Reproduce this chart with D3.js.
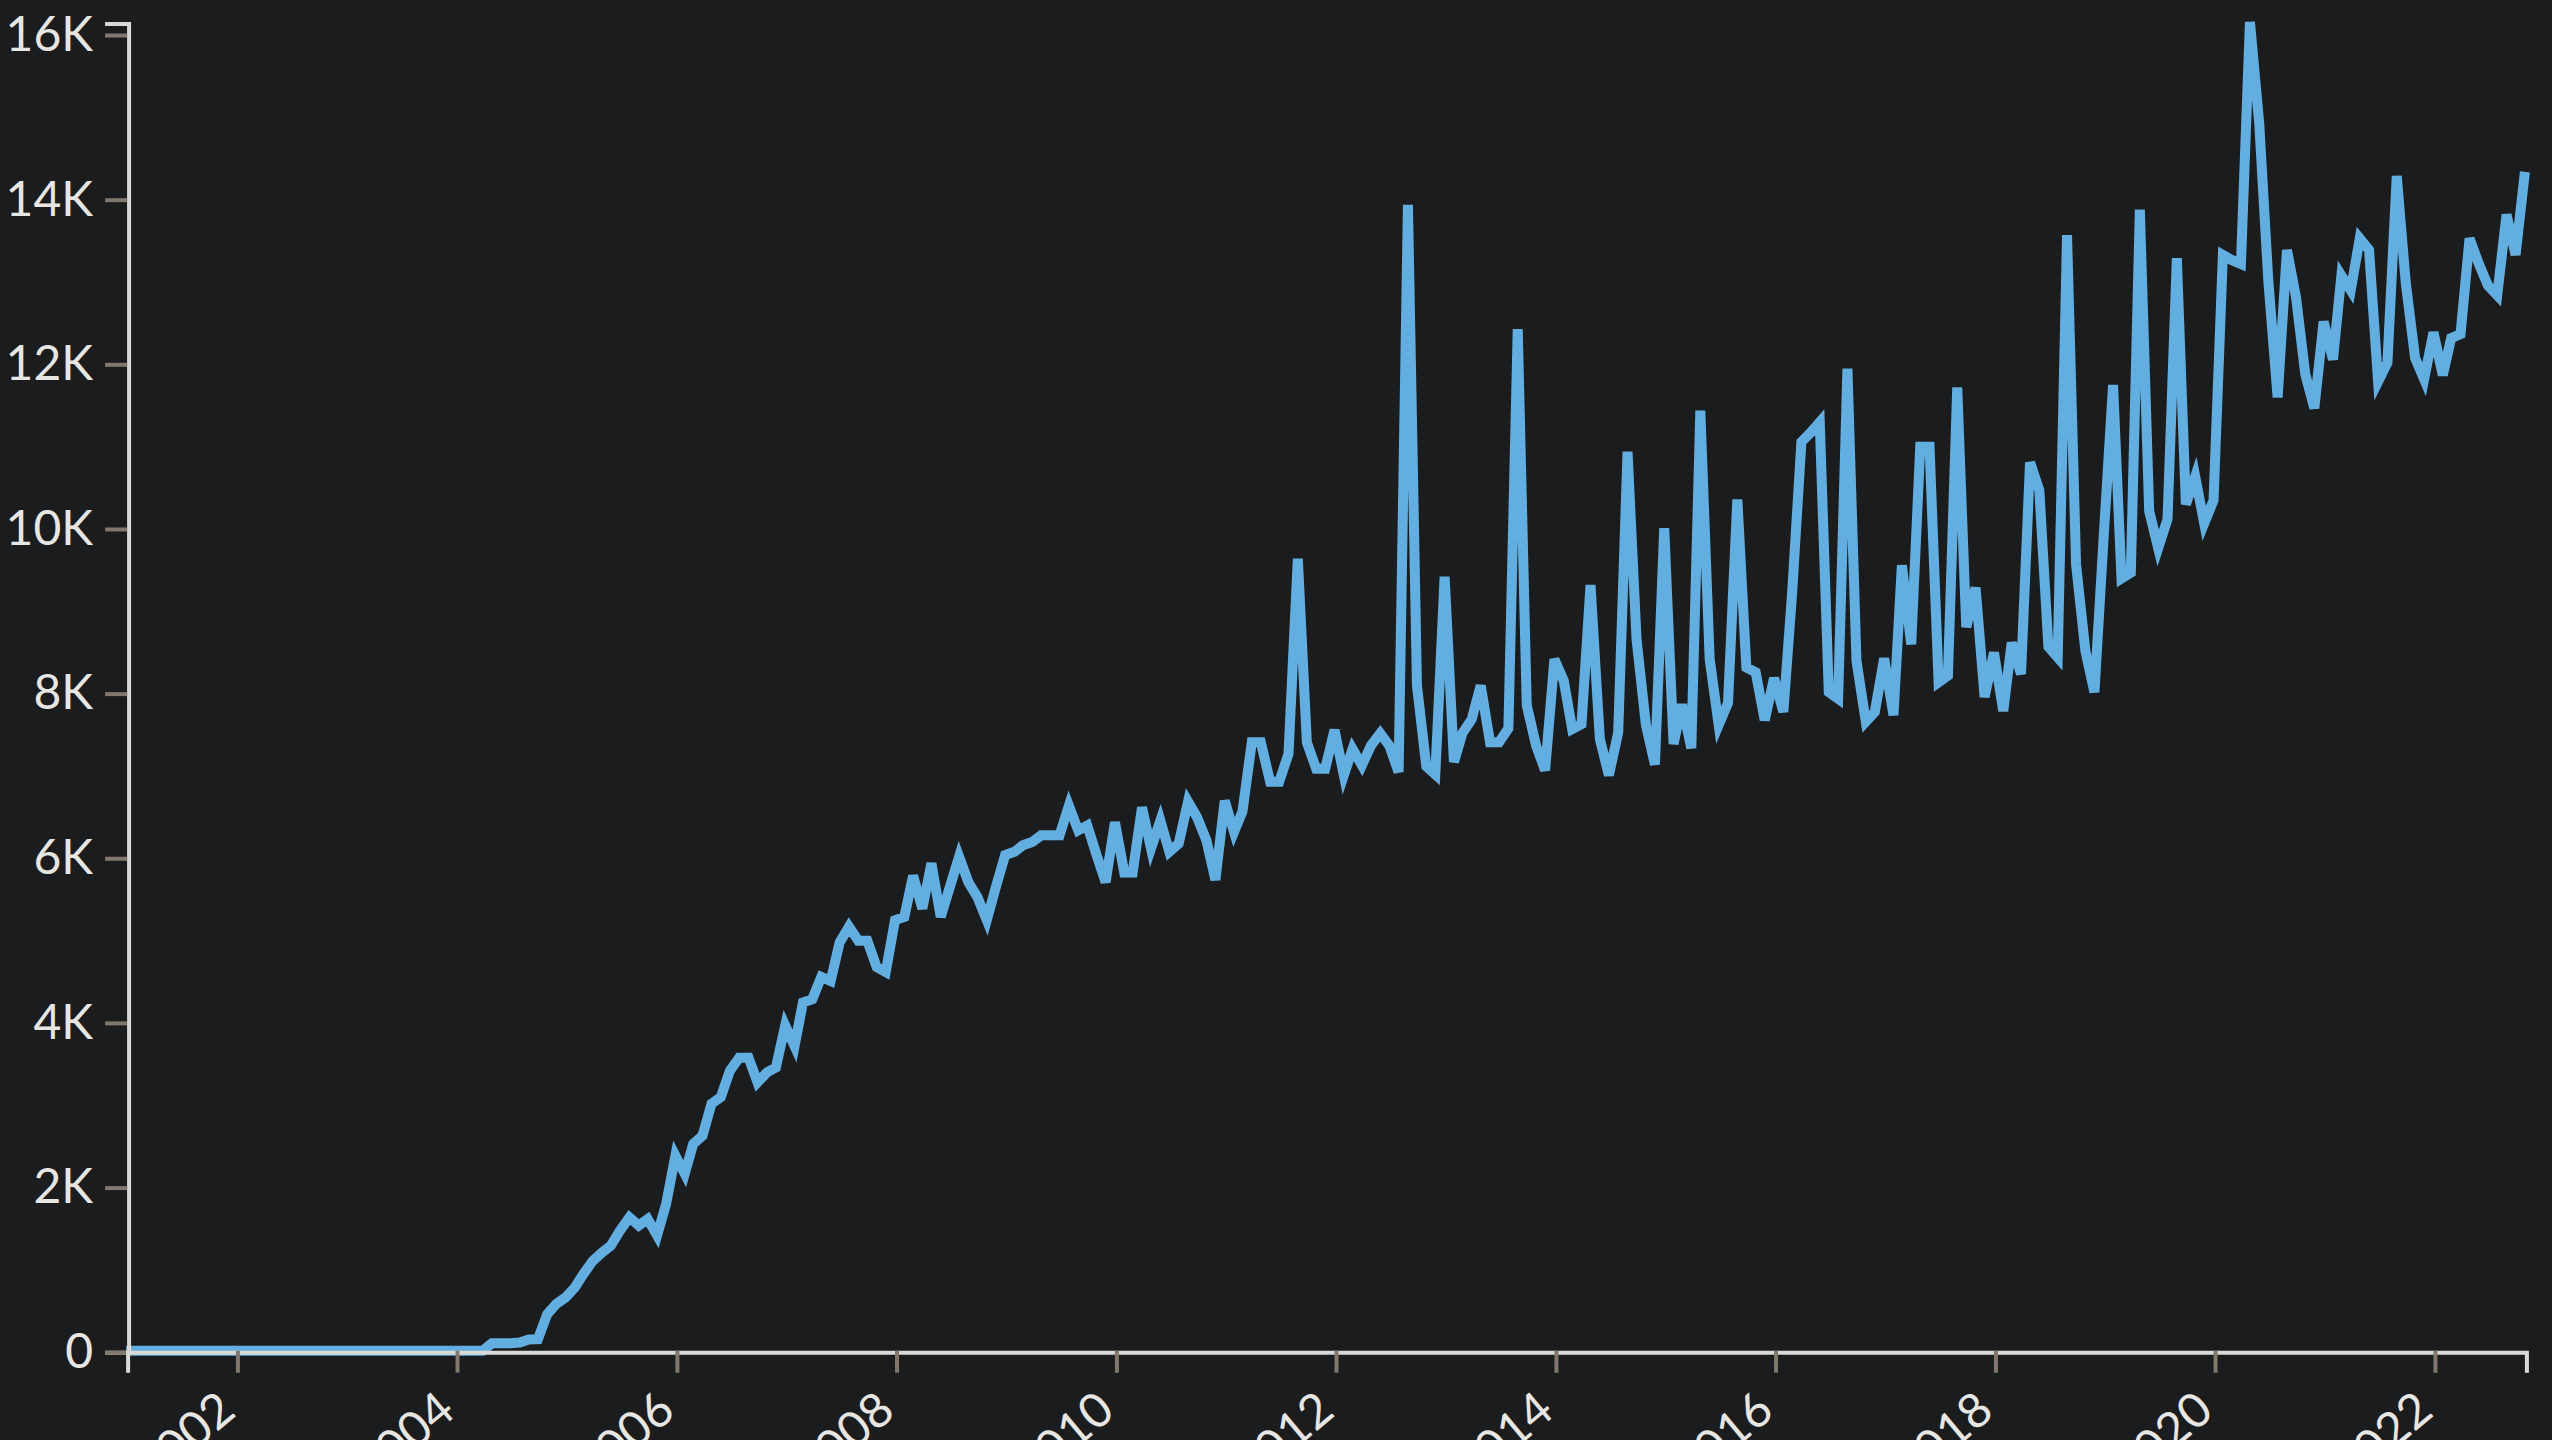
<!DOCTYPE html>
<html>
<head>
<meta charset="utf-8">
<script src="https://cdn.jsdelivr.net/npm/d3@7"></script>
<style>
  html, body { margin: 0; padding: 0; background: #1b1c1e; }
  svg { display: block; }
</style>
</head>
<body>
<svg id="chart" width="2552" height="1440"></svg>
<script>
// ---- data (monthly, starting Jan 2001) ----
const startMonth = "2001-01";
const values = [
  0,0,0,0,0,0,0,0,0,0,0,0,
  0,0,0,0,0,0,0,0,0,0,0,0,
  0,0,0,0,0,0,0,0,0,0,0,0,
  0,0,0,0,90,90,90,100,135,140,445,567,
  648,770,930,1090,1190,1280,1460,1620,1520,1600,1400,1780,
  2370,2150,2510,2610,3000,3080,3400,3560,3560,3260,3380,3440,
  3950,3700,4230,4270,4540,4490,4960,5150,4980,4980,4660,4600,
  5230,5270,5770,5370,5920,5270,5630,6000,5690,5510,5230,5630,
  6020,6060,6140,6180,6260,6260,6260,6620,6320,6380,6020,5690,
  6420,5810,5810,6600,6100,6440,6060,6160,6670,6480,6200,5720,
  6680,6300,6550,7390,7390,6910,6910,7250,9620,7390,7070,7070,
  7540,6990,7310,7110,7350,7500,7350,7030,13920,8080,7100,7000,
  9400,7150,7500,7670,8080,7390,7390,7560,12410,7840,7350,7050,
  8400,8140,7550,7610,9300,7430,6990,7510,10920,8640,7600,7120,
  9990,7370,7850,7320,11420,8400,7600,7870,10340,8300,8240,7660,
  8170,7760,9200,11040,11150,11280,8000,7920,11930,8380,7640,7760,
  8410,7720,9540,8580,10980,10980,8120,8200,11700,8790,9270,7940,
  8480,7770,8600,8220,10790,10450,8550,8420,13550,9550,8500,8000,
  9900,11730,9380,9450,13860,10200,9750,10100,13270,10280,10620,10050,
  10330,13310,13250,13200,16140,14900,13000,11580,13370,12800,11860,11450,
  12500,12040,13060,12880,13510,13370,11770,12000,14270,12970,12060,11800,
  12370,11850,12300,12350,13510,13200,12940,12820,13800,13310,14320
];
const yTickValues = [0, 2000, 4000, 6000, 8000, 10000, 12000, 14000, 16000];
const yTickLabels = ["0", "2K", "4K", "6K", "8K", "10K", "12K", "14K", "16K"];
const xTickYears = [2002, 2004, 2006, 2008, 2010, 2012, 2014, 2016, 2018, 2020, 2022];

// ---- build ----
const parseMonth = d3.timeParse("%Y-%m");
const t0 = parseMonth(startMonth);
const data = values.map((v, i) => ({ date: d3.timeMonth.offset(t0, i), value: v }));

const W = 2552, H = 1440;
const margin = { top: 22, right: 27.1, bottom: 89.3, left: 126.1 };
const AXIS_OFFSET = 2;

const svg = d3.select("#chart");
svg.append("rect").attr("width", W).attr("height", H).attr("fill", "#1b1c1e");

const x = d3.scaleTime()
  .domain(d3.extent(data, d => d.date))
  .range([margin.left, W - margin.right]);

const y = d3.scaleLinear()
  .domain([0, d3.max(values)])
  .range([H - margin.bottom, margin.top]);

const line = d3.line()
  .x(d => x(d.date))
  .y(d => y(d.value));

svg.append("path")
  .datum(data)
  .attr("fill", "none")
  .attr("stroke", "#63aee0")
  .attr("stroke-width", 10)
  .attr("stroke-linejoin", "miter")
  .attr("d", line);

const FONT = "Lato, 'Noto Sans', sans-serif";
const DOMAIN_COLOR = "#d9d9d7";
const TICK_COLOR = "#80786c";
const TEXT_COLOR = "#e8e6e3";

// y axis
const gy = svg.append("g")
  .attr("transform", `translate(${margin.left + 1},0)`)
  .call(d3.axisLeft(y)
    .tickValues(yTickValues)
    .tickFormat((d, i) => yTickLabels[i])
    .tickSize(22)
    .tickPadding(12)
    .offset(AXIS_OFFSET));

// x axis
const gx = svg.append("g")
  .attr("transform", `translate(0,${H - margin.bottom})`)
  .call(d3.axisBottom(x)
    .tickValues(xTickYears.map(yr => new Date(yr, 0, 1)))
    .tickFormat(d3.timeFormat("%Y"))
    .tickSize(22)
    .tickPadding(12)
    .offset(AXIS_OFFSET));

[gx, gy].forEach(g => {
  g.select(".domain").attr("stroke", DOMAIN_COLOR).attr("stroke-width", 4);
  g.selectAll(".tick line").attr("stroke", TICK_COLOR).attr("stroke-width", 4);
  g.selectAll(".tick text")
    .attr("fill", TEXT_COLOR)
    .style("font-family", FONT)
    .style("font-size", "48px");
});

gx.selectAll(".tick text")
  .attr("x", 0).attr("y", 0).attr("dy", 0)
  .attr("text-anchor", "end")
  .attr("transform", "translate(0,64) rotate(-40)");
</script>
</body>
</html>
